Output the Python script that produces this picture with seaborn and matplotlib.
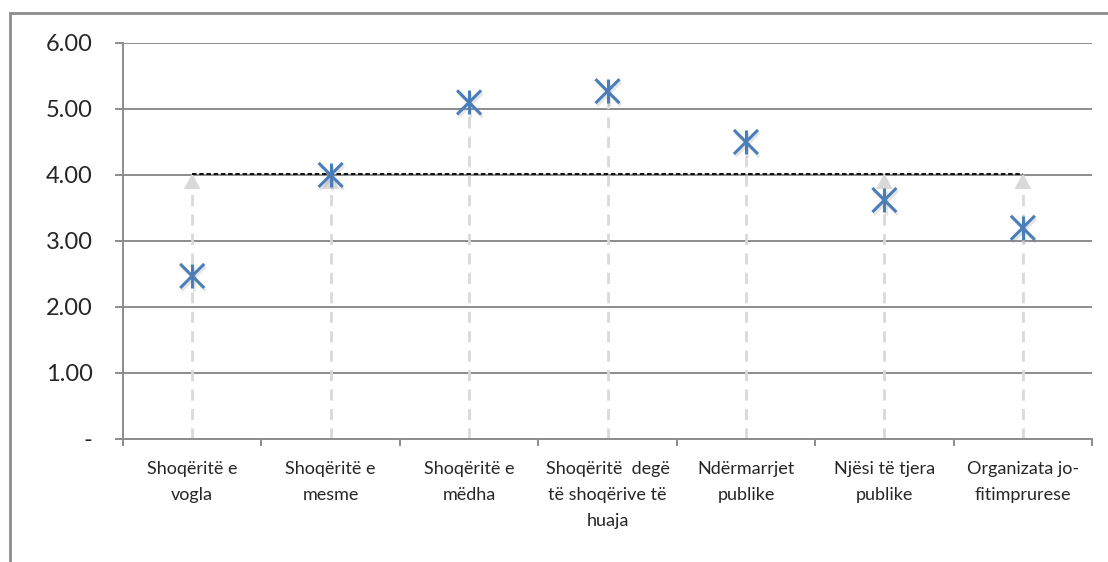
import numpy as np
import pandas as pd
import seaborn as sns
import matplotlib.pyplot as plt
import matplotlib.patheffects as pe
from matplotlib.patches import Rectangle

sns.set_style("white")
plt.rcParams['font.family'] = ['Lato', 'DejaVu Sans']

# data
categories = ["Shoqëritë e\nvogla", "Shoqëritë e\nmesme", "Shoqëritë e\nmëdha",
              "Shoqëritë  degë\ntë shoqërive të\nhuaja", "Ndërmarrjet\npublike",
              "Njësi të tjera\npublike", "Organizata jo-\nfitimprurese"]
values = [2.47, 4.00, 5.10, 5.27, 4.50, 3.62, 3.20]
average = 4.02
ytick_labels = ["-", "1.00", "2.00", "3.00", "4.00", "5.00", "6.00"]

df = pd.DataFrame({"kategoria": categories, "vlera": values})

fig = plt.figure(figsize=(11.08, 5.62), dpi=100)
ax = fig.add_axes([0.111, 0.219, 0.8746, 0.7045])

grid_col = "#8c8c8c"
blue = "#4a7ebb"

# vertical dashed drop lines from 0 up to max(value, average)
pos = np.arange(len(values))
tops = np.maximum(values, average)
ax.vlines(pos, 0, tops, colors="#d9d9d9", linestyles=(0, (4, 3)), linewidth=2, zorder=2)
for p, v in zip(pos, values):
    if v < average:
        ax.annotate("", xy=(p, average), xytext=(p, average - 0.3),
                    arrowprops=dict(arrowstyle="-|>,head_width=0.6,head_length=1.1",
                                    color="#d9d9d9", lw=0, shrinkA=0, shrinkB=0), zorder=2)

# average line
ax.hlines(average, pos[0], pos[-1], colors="black", linestyles=(0, (2.5, 1.5)),
          linewidth=1.3, zorder=3)

shadow = [pe.SimpleLineShadow(offset=(1, -2), shadow_color="gray", alpha=0.2), pe.Normal()]
for m in ["x", "|"]:
    sns.scatterplot(data=df, x="kategoria", y="vlera", marker=m, s=300,
                    color=blue, linewidth=2.2, ax=ax, zorder=5)
for coll in ax.collections:
    if coll.get_offsets().shape[0] == len(values):
        coll.set_path_effects(shadow)

ax.set_xlim(-0.5, len(values) - 0.5)
ax.set_ylim(0, 6)
ax.set_yticks(range(7))
ax.set_yticklabels(ytick_labels, fontsize=17)
ax.yaxis.grid(True, color=grid_col, linewidth=1.4)
ax.set_axisbelow(True)

ax.set_xticks(pos)
ax.set_xticklabels(categories, fontsize=13, linespacing=1.75)
ax.set_xticks(np.arange(len(values) + 1) - 0.5, minor=True)
ax.tick_params(axis="x", which="major", bottom=True, length=0, pad=16)
ax.tick_params(axis="x", which="minor", bottom=True, length=5, width=1.4, color=grid_col,
               direction="out")
ax.tick_params(axis="y", left=True, length=6, width=1.4, color=grid_col, direction="out",
               pad=16)
ax.set_xlabel("")
ax.set_ylabel("")

for s in ["top", "right"]:
    ax.spines[s].set_visible(False)
for s in ["left", "bottom"]:
    ax.spines[s].set_color(grid_col)
    ax.spines[s].set_linewidth(1.4)

# outer chart frame
fig.patches.append(Rectangle((10 / 1108, -0.1), 1.2, 0.1 + (562 - 13) / 562,
                             transform=fig.transFigure, fill=False,
                             edgecolor="#8c8c8c", linewidth=2))

fig.savefig("out.png", dpi=100)
